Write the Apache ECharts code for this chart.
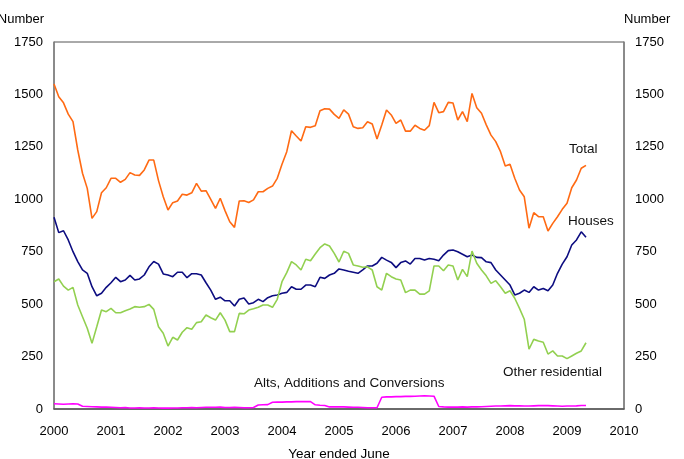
<!DOCTYPE html>
<html>
<head>
<meta charset="utf-8">
<script src="https://cdn.jsdelivr.net/npm/echarts@6/dist/echarts.min.js"></script>
<style>
html, body { margin: 0; padding: 0; background: #fff; }
#chart { width: 684px; height: 459px; }
</style>
</head>
<body>
<div id="chart"></div>
<script>
// monthly values, first point at 2000.0
var startYear = 2000;
var yearTicks = [2000, 2001, 2002, 2003, 2004, 2005, 2006, 2007, 2008, 2009, 2010];

var total = [1550, 1489, 1460, 1406, 1370, 1235, 1124, 1052, 909, 941, 1031, 1055,
  1100, 1100, 1081, 1095, 1127, 1116, 1114, 1140, 1187, 1187, 1089, 1012,
  949, 984, 992, 1024, 1020, 1031, 1076, 1039, 1041, 1000, 957, 1005,
  946, 893, 866, 992, 993, 985, 997, 1036, 1036, 1052, 1063, 1100,
  1167, 1227, 1327, 1302, 1278, 1346, 1343, 1351, 1422, 1432, 1430, 1405,
  1386, 1426, 1406, 1346, 1338, 1341, 1370, 1359, 1287, 1354, 1426, 1402,
  1362, 1378, 1325, 1325, 1353, 1338, 1329, 1351, 1462, 1413, 1418, 1462,
  1459, 1378, 1418, 1370, 1505, 1437, 1410, 1355, 1306, 1275, 1227, 1159,
  1167, 1100, 1044, 1012, 862, 936, 917, 917, 849, 885, 917, 952,
  981, 1055, 1092, 1148, 1162];

var houses = [914, 841, 850, 806, 750, 703, 663, 647, 583, 540, 552, 580,
  602, 628, 607, 615, 637, 615, 620, 639, 678, 703, 691, 644,
  639, 631, 652, 652, 626, 645, 645, 639, 602, 567, 523, 533,
  516, 516, 491, 523, 529, 501, 507, 523, 512, 531, 540, 544,
  552, 556, 583, 571, 571, 591, 591, 583, 628, 623, 639, 647,
  668, 663, 657, 652, 647, 663, 682, 682, 695, 723, 710, 699,
  674, 698, 706, 691, 718, 718, 710, 718, 714, 707, 734, 755,
  758, 750, 738, 726, 734, 723, 722, 702, 698, 663, 639, 615,
  591, 544, 552, 567, 556, 583, 567, 575, 564, 591, 647, 691,
  726, 782, 806, 845, 819];

var other = [607, 620, 586, 567, 580, 496, 440, 385, 313, 392, 472, 464,
  480, 459, 459, 469, 477, 488, 485, 488, 499, 475, 392, 361,
  300, 342, 329, 366, 388, 380, 412, 416, 448, 435, 424, 459,
  424, 369, 369, 456, 454, 472, 478, 485, 496, 496, 485, 523,
  607, 650, 703, 687, 663, 714, 707, 739, 769, 787, 777, 742,
  701, 752, 742, 687, 682, 676, 678, 663, 583, 567, 647, 631,
  620, 615, 555, 567, 567, 548, 548, 563, 682, 682, 659, 687,
  682, 615, 666, 631, 753, 695, 663, 635, 599, 612, 583, 552,
  564, 528, 480, 428, 285, 332, 324, 318, 262, 277, 253, 253,
  240, 253, 266, 277, 316];

var alts = [25, 24, 23, 24, 25, 24, 13, 12, 11, 10, 9, 9,
  8, 7, 6, 7, 5, 5, 6, 5, 5, 6, 5, 4,
  4, 5, 5, 6, 6, 7, 6, 7, 8, 8, 8, 9,
  7, 7, 8, 7, 6, 6, 7, 19, 20, 21, 32, 33,
  33, 34, 34, 35, 35, 36, 35, 20, 18, 17, 10, 10,
  11, 10, 9, 8, 8, 7, 6, 6, 6, 56, 58, 58,
  59, 59, 60, 60, 61, 62, 63, 62, 61, 12, 10, 9,
  9, 9, 10, 9, 10, 10, 11, 12, 13, 14, 14, 15,
  16, 15, 15, 14, 14, 15, 16, 17, 16, 15, 14, 13,
  14, 14, 15, 17, 17];

var seriesNames = ['Total', 'Houses', 'Other residential', 'Alts, Additions and Conversions'];
var seriesColors = ['#ff6a13', '#0c0c80', '#92d050', '#ff00ff'];

function pts(arr) {
    return arr.map(function(v, i) { return [startYear + i / 12, v]; });
}

var font = '"Liberation Sans", Arial, sans-serif';
var chart = echarts.init(document.getElementById('chart'));

var yAxisBase = function(pos) {
    return {
        type: 'value', position: pos, min: 0, max: 1750, interval: 250,
        name: 'Number', nameLocation: 'end', nameGap: 16,
        nameTextStyle: { color: '#000', fontFamily: font, fontSize: 13, align: pos == 'left' ? 'right' : 'left', padding: pos == 'left' ? [0, 10, 0, 0] : [0, 0, 0, 0] },
        axisLine: { show: true, lineStyle: { color: '#808080', width: 1.5 } },
        axisTick: { show: false },
        splitLine: { show: false },
        axisLabel: { color: '#000', fontFamily: font, fontSize: 13, margin: 11, formatter: function(v) { return String(v); } }
    };
};

var data = [total, houses, other, alts];
var series = data.map(function(d, k) {
    return {
        name: seriesNames[k], type: 'line', data: pts(d), symbol: 'none',
        lineStyle: { color: seriesColors[k], width: 1.6 }, animation: false
    };
});

var note = function(x, y, t) {
    return { type: 'text', x: x, y: y, style: { text: t, fill: '#111', font: '13.5px ' + font, verticalAlign: 'middle' } };
};

chart.setOption({
    backgroundColor: '#fff',
    animation: false,
    grid: { left: 54, right: 60, top: 42, bottom: 50, show: true, borderColor: '#555', borderWidth: 1, outerBoundsMode: 'none', containLabel: false },
    xAxis: {
        type: 'value', min: 2000, max: 2010, interval: 1,
        name: 'Year ended June', nameLocation: 'middle', nameGap: 38,
        nameTextStyle: { color: '#000', fontFamily: font, fontSize: 13.5 },
        axisLine: { show: true, lineStyle: { color: '#555', width: 1.5 } },
        axisTick: { show: false },
        splitLine: { show: false },
        axisLabel: { color: '#000', fontFamily: font, fontSize: 13, margin: 16, formatter: function(v) { return String(v); } }
    },
    yAxis: [yAxisBase('left'), yAxisBase('right')],
    series: series,
    graphic: [
        note(569, 149, 'Total'),
        note(568, 221, 'Houses'),
        note(503, 372, 'Other residential'),
        note(254, 383, 'Alts, Additions and Conversions')
    ]
});
</script>
</body>
</html>
